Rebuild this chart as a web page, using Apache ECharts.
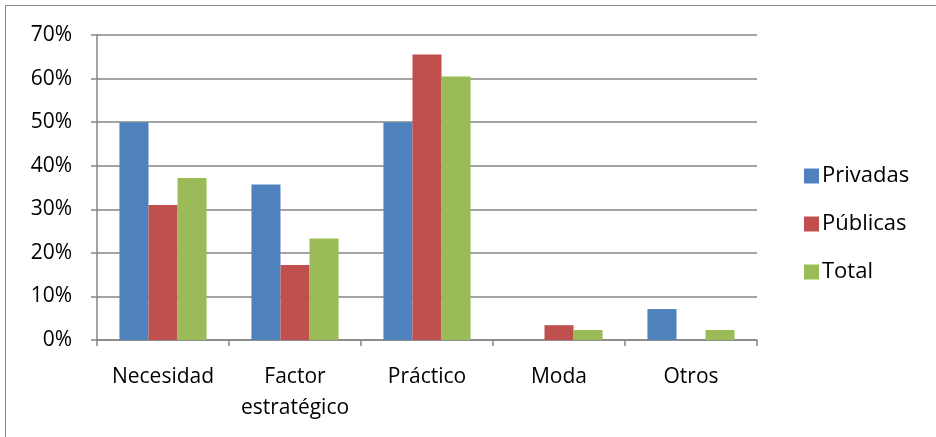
<!DOCTYPE html>
<html>
<head>
<meta charset="utf-8">
<script src="https://cdn.jsdelivr.net/npm/echarts@6/dist/echarts.min.js"></script>
<style>html,body{margin:0;padding:0;background:#fff}#c{width:936px;height:437px}</style>
</head>
<body>
<div id="c"></div>
<script>
const categories = ['Necesidad', 'Factor\nestratégico', 'Práctico', 'Moda', 'Otros'];
const privadas = [50.0, 35.7, 50.0, 0, 7.1];
const publicas = [31.0, 17.2, 65.5, 3.4, 0];
const total = [37.2, 23.3, 60.5, 2.3, 2.3];
const seriesNames = ['Privadas', 'Públicas', 'Total'];
const colors = ['#4F81BD', '#C0504D', '#9BBB59'];

const FONT = '"Open Sans", "Noto Sans", sans-serif';
const chart = echarts.init(document.getElementById('c'), null, {renderer: 'canvas'});
const mk = (name, data, i) => ({
  name, type: 'bar', data,
  barGap: '0%', barCategoryGap: '34%',
  itemStyle: {color: colors[i]},
  animation: false
});
chart.setOption({
  animation: false,
  graphic: [{
    type: 'rect', shape: {x: 5.5, y: 5.5, width: 1000, height: 1000},
    style: {fill: 'none', stroke: '#868686', lineWidth: 1}, silent: true
  }],
  grid: {left: 97, right: 179, top: 35, bottom: 97, containLabel: false},
  legend: {
    orient: 'vertical', left: 799, top: 160, itemGap: 26,
    itemWidth: 15, itemHeight: 15, icon: 'rect',
    textStyle: {fontFamily: FONT, fontSize: 22, color: '#000', padding: [0, 0, 0, -2]},
    data: seriesNames
  },
  xAxis: {
    type: 'category', data: categories,
    axisLine: {lineStyle: {color: '#868686', width: 1.5}},
    axisTick: {show: true, interval: 0, alignWithLabel: false, length: 6, lineStyle: {color: '#868686', width: 1.5}},
    axisLabel: {interval: 0, hideOverlap: false, fontFamily: FONT, fontSize: 21, color: '#000', margin: 22, lineHeight: 31}
  },
  yAxis: {
    type: 'value', min: 0, max: 70, interval: 10,
    axisLine: {show: true, lineStyle: {color: '#868686', width: 1.5}},
    axisTick: {show: true, length: 6, lineStyle: {color: '#868686', width: 1.5}},
    splitLine: {lineStyle: {color: '#868686', width: 1.5}},
    axisLabel: {fontFamily: FONT, fontSize: 21, color: '#000', margin: 25, formatter: v => v + '%'}
  },
  series: [mk(seriesNames[0], privadas, 0), mk(seriesNames[1], publicas, 1), mk(seriesNames[2], total, 2)]
});
</script>
</body>
</html>
